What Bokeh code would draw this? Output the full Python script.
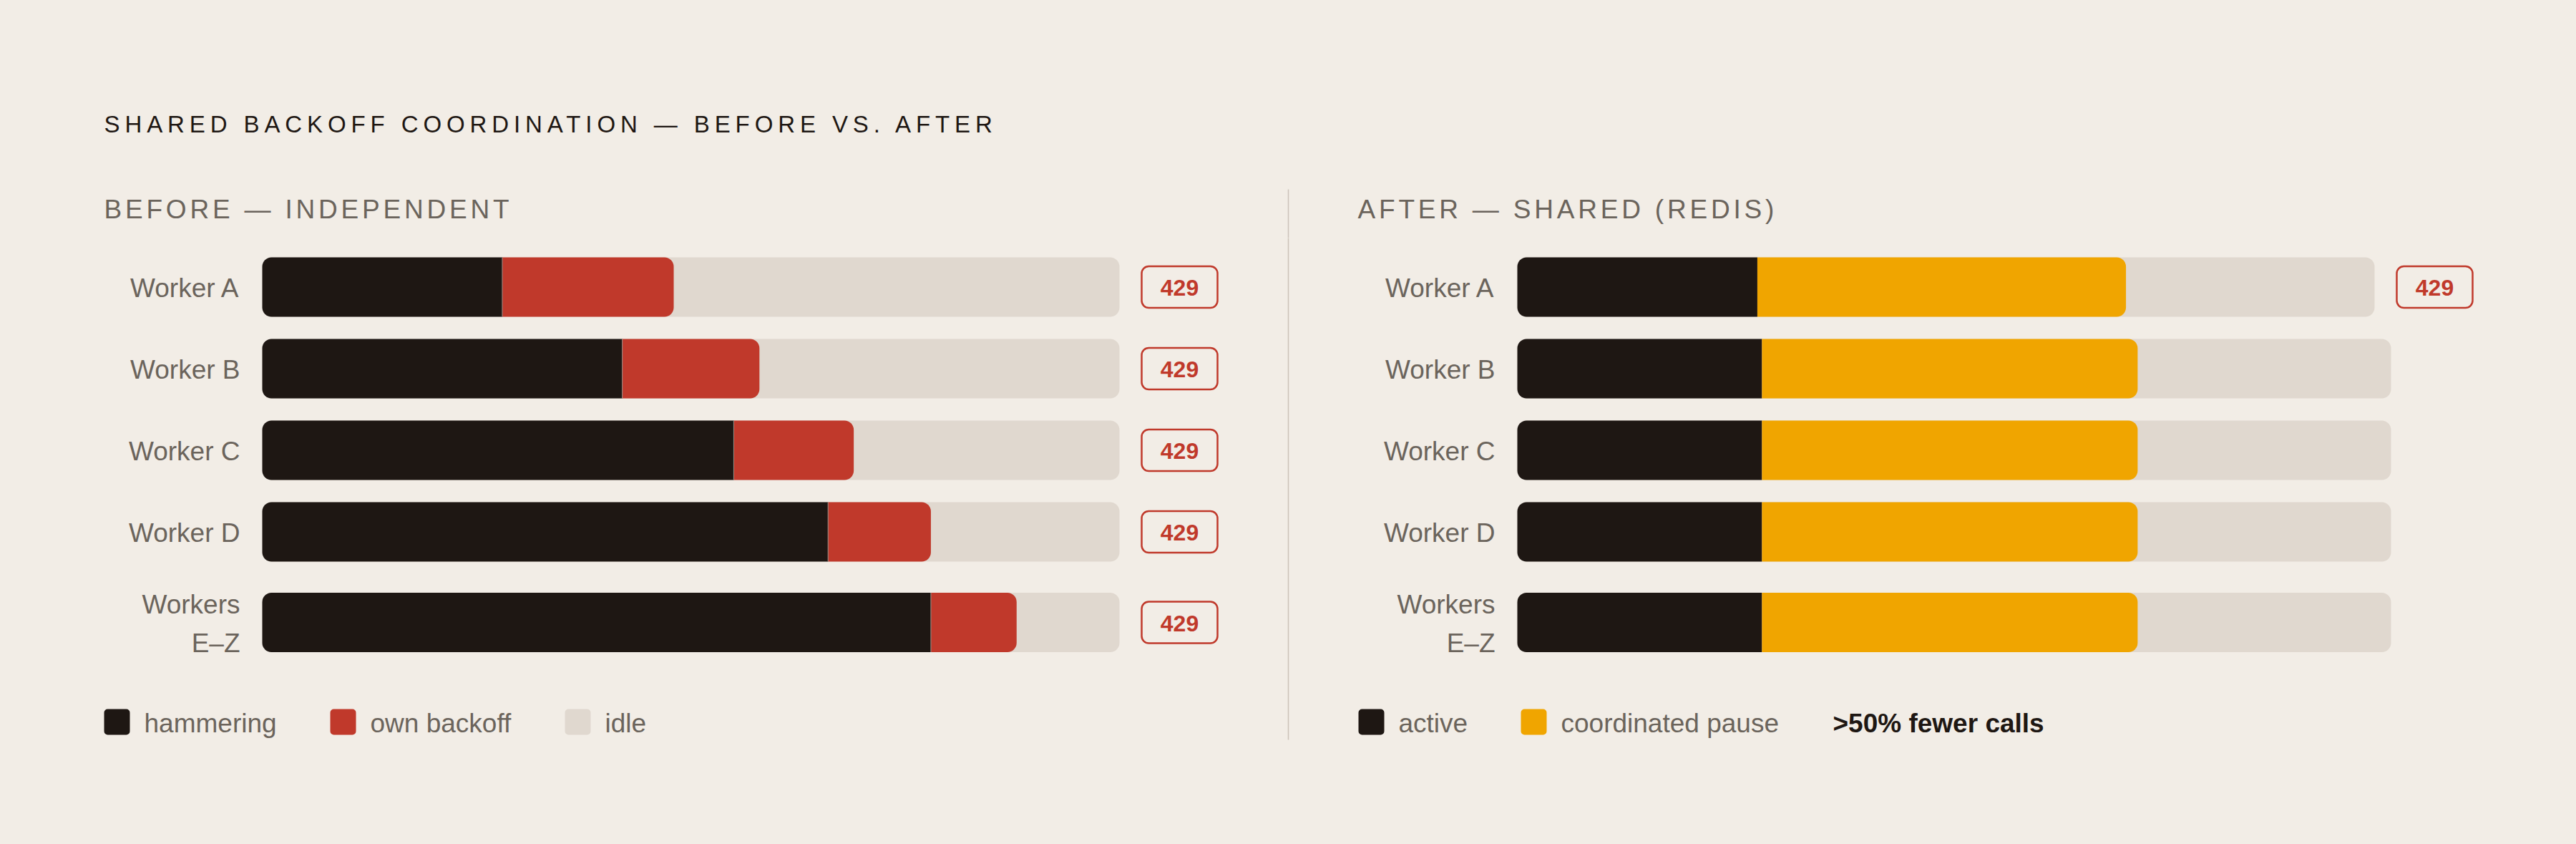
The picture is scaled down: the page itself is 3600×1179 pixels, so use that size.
from bokeh.plotting import figure
from bokeh.layouts import column
from bokeh.models import Range1d, GlobalInlineStyleSheet
from bokeh.core.properties import value
from bokeh.embed import file_html
from bokeh.resources import INLINE

# ---------------- data ----------------
TITLE = "SHARED BACKOFF COORDINATION — BEFORE VS. AFTER"
BEFORE_TITLE = "BEFORE — INDEPENDENT"
AFTER_TITLE = "AFTER — SHARED (REDIS)"
workers = ["Worker A", "Worker B", "Worker C", "Worker D", "Workers E–Z"]

before_hammering = [28, 42, 55, 66, 78]   # % of window
before_backoff = [20, 16, 14, 12, 10]
before_429 = [True, True, True, True, True]

after_active = [28, 28, 28, 28, 28]
after_pause = [43, 43, 43, 43, 43]
after_429 = [True, False, False, False, False]

badge_label = "429"
before_legend = ["hammering", "own backoff", "idle"]
after_legend = ["active", "coordinated pause"]
after_note = ">50% fewer calls"

# ---------------- style / layout ----------------
BG = "#f2ede6"
TRACK = "#e0d8cf"
INK = "#1e1713"
RED = "#c0392b"
AMBER = "#f0a500"
MUTED = "#6b645c"
RULE = "#cbc3b9"
SEP = "#978e86"
FONT = value("Liberation Sans")

W, H = 3584, 1163
Y_TITLE_END, Y_HEAD_END = 230, 332
BAR_H, LINE_H, ROW_GAP, ROW_TOP = 83, 54, 31, 359
TRACK_FULL, TRACK_BADGE = 1221, 1198
RADIUS = 13
LABEL_GAP = 31
BADGE_W, BADGE_H = 106, 58
TEXT_SIZE = "37px"


def band(y0, y1, spacing=None):
    f = figure(width=W, height=y1 - y0,
               x_range=Range1d(0, W), y_range=Range1d(y1, y0),
               x_axis_type=None, y_axis_type=None,
               toolbar_location=None, output_backend="svg",
               min_border=0, background_fill_color=BG, border_fill_color=BG,
               outline_line_color=None)
    if spacing:
        f.styles = {"letter-spacing": spacing}
    return f


p_title = band(0, Y_TITLE_END, "6.9px")
p_head = band(Y_TITLE_END, Y_HEAD_END, "4.8px")
p = band(Y_HEAD_END, H)


def wrap(label):
    if len(label) > 10 and " " in label:
        return label.split(" ", 1)
    return [label]


# row geometry (layout)
rows = []
cursor = ROW_TOP
for w in workers:
    lines = wrap(w)
    rh = max(BAR_H, len(lines) * LINE_H)
    rows.append((cursor + rh / 2, lines))
    cursor += rh + ROW_GAP
centers = [r[0] for r in rows]

# title
p_title.text(x=[145], y=[173], text=[TITLE], text_font=FONT, text_font_size="33px",
             text_color=INK, text_align="left", text_baseline="middle")

# divider (spans header band and body band)
p_head.segment(x0=[1800], y0=[264], x1=[1800], y1=[Y_HEAD_END + 2], line_color=RULE, line_width=1.5)
p.segment(x0=[1800], y0=[Y_HEAD_END - 2], x1=[1800], y1=[1033], line_color=RULE, line_width=1.5)

panels = [
    dict(name="before", x0=145, track_x=366, title=BEFORE_TITLE,
         a=before_hammering, b=before_backoff, colors=(INK, RED), badges=before_429,
         legend=list(zip([INK, RED, TRACK], before_legend)), legend_x=[145, 461, 789],
         note=None, sep=True),
    dict(name="after", x0=1897, track_x=2120, title=AFTER_TITLE,
         a=after_active, b=after_pause, colors=(INK, AMBER), badges=after_429,
         legend=list(zip([INK, AMBER], after_legend)), legend_x=[1898, 2125],
         note=(after_note, 2561), sep=False),
]

for pn in panels:
    name = pn["name"]
    tx = pn["track_x"]
    p.extra_x_ranges[name] = Range1d(-tx / TRACK_FULL * 100, (W - tx) / TRACK_FULL * 100)
    scale = [(TRACK_BADGE if b else TRACK_FULL) / TRACK_FULL for b in pn["badges"]]

    # header
    p_head.text(x=[pn["x0"]], y=[291.5], text=[pn["title"]], text_font=FONT,
                text_font_size="37px", text_color=MUTED, text_align="left",
                text_baseline="middle")

    # tracks and segments
    p.hbar(y=centers, left=[0] * len(centers), right=[100 * s for s in scale],
           height=BAR_H, x_range_name=name, fill_color=TRACK, line_color=None,
           border_radius=RADIUS)
    a_end = [a * s for a, s in zip(pn["a"], scale)]
    b_end = [(a + b) * s for a, b, s in zip(pn["a"], pn["b"], scale)]
    p.hbar(y=centers, left=[0] * len(centers), right=a_end, height=BAR_H,
           x_range_name=name, fill_color=pn["colors"][0], line_color=None,
           border_radius=(RADIUS, 0, 0, RADIUS))
    p.hbar(y=centers, left=a_end, right=b_end, height=BAR_H,
           x_range_name=name, fill_color=pn["colors"][1], line_color=None,
           border_radius=(0, RADIUS, RADIUS, 0))
    if pn["sep"]:
        p.segment(x0=a_end, x1=a_end, y0=[c - BAR_H / 2 for c in centers],
                  y1=[c + BAR_H / 2 for c in centers], x_range_name=name,
                  line_color=SEP, line_width=1)

    # row labels
    lx, ly, lt = [], [], []
    for cy, lines in rows:
        n = len(lines)
        for i, ln in enumerate(lines):
            lx.append(tx - LABEL_GAP)
            ly.append(cy + 1.5 + (i - (n - 1) / 2) * LINE_H)
            lt.append(ln)
    p.text(x=lx, y=ly, text=lt, text_font=FONT, text_font_size=TEXT_SIZE,
           text_color=MUTED, text_align="right", text_baseline="middle")

    # 429 badges
    bx, by = [], []
    for cy, has, s in zip(centers, pn["badges"], scale):
        if has:
            bx.append(tx + TRACK_FULL * s + LABEL_GAP + BADGE_W / 2)
            by.append(cy)
    if bx:
        p.quad(left=[x - BADGE_W / 2 for x in bx], right=[x + BADGE_W / 2 for x in bx],
               top=[y - BADGE_H / 2 for y in by], bottom=[y + BADGE_H / 2 for y in by],
               fill_color=None, line_color=RED, line_width=2.5, border_radius=10)
        p.text(x=bx, y=[y + 1 for y in by], text=[badge_label] * len(bx),
               text_font=FONT, text_font_style="bold", text_font_size="32px",
               text_color=RED, text_align="center", text_baseline="middle")

    # legend
    sw = [c for c, _ in pn["legend"]]
    labs = [t for _, t in pn["legend"]]
    xs = pn["legend_x"]
    p.quad(left=xs, right=[x + 36 for x in xs], top=[990] * len(xs),
           bottom=[1026] * len(xs), fill_color=sw, line_color=None, border_radius=5)
    p.text(x=[x + 56 for x in xs], y=[1010] * len(xs), text=labs, text_font=FONT,
           text_font_size=TEXT_SIZE, text_color=MUTED, text_align="left",
           text_baseline="middle")
    if pn["note"]:
        p.text(x=[pn["note"][1]], y=[1010], text=[pn["note"][0]], text_font=FONT,
               text_font_style="bold", text_font_size=TEXT_SIZE, text_color=INK,
               text_align="left", text_baseline="middle")

page = column(p_title, p_head, p, spacing=0)
page.stylesheets = [GlobalInlineStyleSheet(css="body { background: %s; }" % BG)]
open("out.html", "w").write(file_html(page, INLINE))
